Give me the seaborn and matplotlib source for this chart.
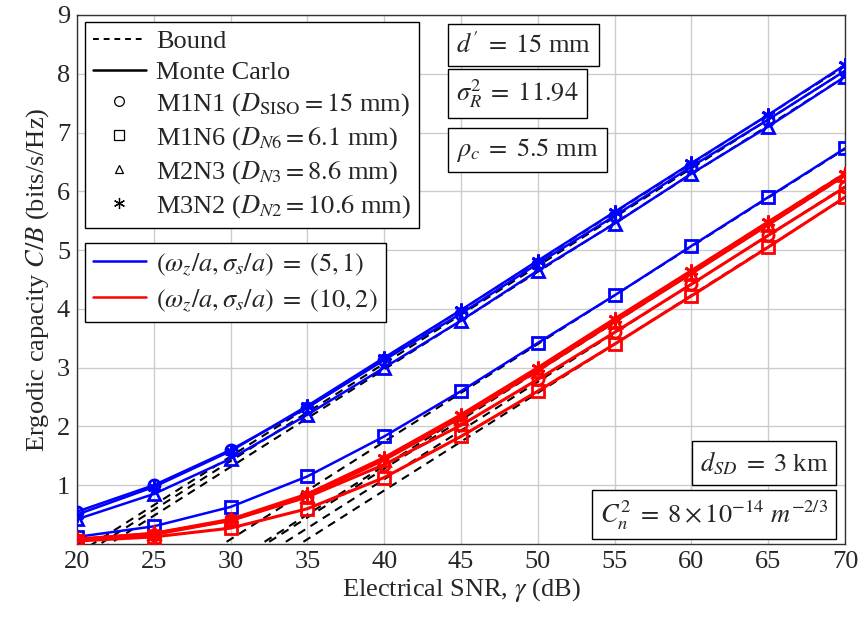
import numpy as np
import pandas as pd
import matplotlib
matplotlib.use("Agg")
import matplotlib.pyplot as plt
from matplotlib.lines import Line2D
import seaborn as sns

# ---------------- data ----------------
snr_db = [20, 25, 30, 35, 40, 45, 50, 55, 60, 65, 70]

# Monte Carlo, (wz/a, ss/a) = (5,1)  -> blue
mc_blue_m1n1 = [0.55, 1.00, 1.60, 2.32, 3.13, 3.92, 4.77, 5.58, 6.42, 7.22, 8.05]
mc_blue_m1n6 = [0.12, 0.30, 0.63, 1.15, 1.83, 2.60, 3.42, 4.23, 5.07, 5.90, 6.73]
mc_blue_m2n3 = [0.42, 0.85, 1.45, 2.20, 3.00, 3.80, 4.65, 5.45, 6.30, 7.10, 7.95]
mc_blue_m3n2 = [0.50, 0.97, 1.58, 2.35, 3.17, 3.98, 4.82, 5.65, 6.48, 7.30, 8.15]

# Monte Carlo, (wz/a, ss/a) = (10,2) -> red
mc_red_m1n1 = [0.07, 0.16, 0.40, 0.80, 1.35, 2.02, 2.80, 3.60, 4.42, 5.25, 6.07]
mc_red_m1n6 = [0.05, 0.12, 0.27, 0.60, 1.13, 1.83, 2.60, 3.40, 4.22, 5.05, 5.90]
mc_red_m2n3 = [0.08, 0.18, 0.40, 0.82, 1.43, 2.15, 2.95, 3.78, 4.60, 5.43, 6.27]
mc_red_m3n2 = [0.08, 0.18, 0.42, 0.85, 1.47, 2.20, 3.00, 3.83, 4.65, 5.48, 6.30]

# Bounds (drawn below 0 are clipped by the axis)
bd_blue_m1n1 = [-0.25, 0.58, 1.41, 2.24, 3.07, 3.90, 4.73, 5.56, 6.39, 7.22, 8.05]
bd_blue_m1n6 = [-1.58, -0.75, 0.08, 0.91, 1.74, 2.57, 3.40, 4.23, 5.06, 5.89, 6.72]
bd_blue_m2n3 = [-0.35, 0.48, 1.31, 2.14, 2.97, 3.80, 4.63, 5.46, 6.29, 7.12, 7.95]
bd_blue_m3n2 = [-0.17, 0.66, 1.49, 2.32, 3.15, 3.98, 4.81, 5.64, 6.47, 7.30, 8.13]
bd_red_m1n1 = [-2.22, -1.39, -0.56, 0.27, 1.10, 1.93, 2.76, 3.59, 4.42, 5.25, 6.08]
bd_red_m1n6 = [-2.41, -1.58, -0.75, 0.08, 0.91, 1.74, 2.57, 3.40, 4.23, 5.06, 5.89]
bd_red_m2n3 = [-2.04, -1.21, -0.38, 0.45, 1.28, 2.11, 2.94, 3.77, 4.60, 5.43, 6.26]
bd_red_m3n2 = [-1.99, -1.16, -0.33, 0.50, 1.33, 2.16, 2.99, 3.82, 4.65, 5.48, 6.31]

x_ticks = [20, 25, 30, 35, 40, 45, 50, 55, 60, 65, 70]
y_ticks = [1, 2, 3, 4, 5, 6, 7, 8, 9]

# ---------------- style ----------------
sns.set_theme(style="whitegrid")
plt.rcParams["font.family"] = ["Liberation Serif", "DejaVu Serif"]
plt.rcParams["mathtext.fontset"] = "stix"

FS = 19
fig = plt.figure(figsize=(8.61, 6.19), dpi=100)
ax = fig.add_axes([0.0894, 0.1212, 0.892, 0.8546])

BLUE = "#0000ff"
RED = "#ff0000"
ASTER = (6, 2, 0)

def frame(vals):
    return pd.DataFrame({"snr": snr_db, "cap": vals})

bounds = [bd_blue_m1n1, bd_blue_m1n6, bd_blue_m2n3, bd_blue_m3n2,
          bd_red_m1n1, bd_red_m1n6, bd_red_m2n3, bd_red_m3n2]
for b in bounds:
    sns.lineplot(data=frame(b), x="snr", y="cap", ax=ax, color="black",
                 linestyle=(0, (4, 3)), linewidth=1.5, zorder=3, legend=False)

series = [
    (mc_blue_m1n1, BLUE, "o", 1.8), (mc_blue_m1n6, BLUE, "s", 1.8),
    (mc_blue_m2n3, BLUE, "^", 1.8), (mc_blue_m3n2, BLUE, ASTER, 1.8),
    (mc_red_m1n1, RED, "o", 2.2), (mc_red_m1n6, RED, "s", 2.2),
    (mc_red_m2n3, RED, "^", 2.2), (mc_red_m3n2, RED, ASTER, 2.2),
]
for vals, col, mk, lw in series:
    ms = 10 if mk == ASTER else 8
    sns.lineplot(data=frame(vals), x="snr", y="cap", ax=ax, color=col,
                 linewidth=lw, marker=mk, markersize=ms,
                 markerfacecolor="none", markeredgecolor=col,
                 markeredgewidth=2.0, zorder=4, legend=False)

ax.set_xlim(20, 70)
ax.set_ylim(0, 9)
ax.set_xticks(x_ticks)
ax.set_yticks(y_ticks)
ax.set_xticklabels([str(t) for t in x_ticks], fontsize=FS)
ax.set_yticklabels([str(t) for t in y_ticks], fontsize=FS)
ax.grid(True, color="#cccccc", linewidth=1.0)
for s in ax.spines.values():
    s.set_color("#333333")
    s.set_linewidth(1.0)
ax.tick_params(axis="both", length=0, pad=5)
ax.set_xlabel(r"Electrical SNR, $\gamma$ (dB)", fontsize=FS, labelpad=2)
ax.set_ylabel(r"Ergodic capacity $C/B$ (bits/s/Hz)", fontsize=FS, labelpad=4)

# ---------------- legends ----------------
h1 = [
    Line2D([], [], color="black", linestyle=(0, (3, 2.5)), linewidth=1.4),
    Line2D([], [], color="black", linewidth=1.8),
    Line2D([], [], color="black", marker="o", linestyle="none", markersize=7, mfc="none", mew=0.9),
    Line2D([], [], color="black", marker="s", linestyle="none", markersize=7, mfc="none", mew=0.9),
    Line2D([], [], color="black", marker="^", linestyle="none", markersize=6, mfc="none", mew=0.9),
    Line2D([], [], color="black", marker=ASTER, linestyle="none", markersize=8, mfc="none", mew=0.9),
]
l1 = [
    "Bound", "Monte Carlo",
    r"M1N1 ($D_{\mathrm{SISO}} = 15$ mm)",
    r"M1N6 ($D_{N6} = 6.1$ mm)",
    r"M2N3 ($D_{N3} = 8.6$ mm)",
    r"M3N2 ($D_{N2} = 10.6$ mm)",
]
leg1 = ax.legend(h1, l1, loc="upper left", bbox_to_anchor=(0.0104, 0.987),
                 fontsize=FS, frameon=True, fancybox=False, edgecolor="black",
                 framealpha=1, handlelength=2.0, handletextpad=0.4,
                 labelspacing=0.27, borderpad=0.3, borderaxespad=0.0)
leg1.get_frame().set_linewidth(1.0)
ax.add_artist(leg1)

h2 = [Line2D([], [], color=BLUE, linewidth=1.8),
      Line2D([], [], color=RED, linewidth=1.8)]
l2 = [r"$(\omega_z/a,\sigma_s/a) \;=\; (5,1)$",
      r"$(\omega_z/a,\sigma_s/a) \;=\; (10,2)$"]
leg2 = ax.legend(h2, l2, loc="upper left", bbox_to_anchor=(0.0104, 0.569),
                 fontsize=FS, frameon=True, fancybox=False, edgecolor="black",
                 framealpha=1, handlelength=2.0, handletextpad=0.4,
                 labelspacing=0.35, borderpad=0.3, borderaxespad=0.0)
leg2.get_frame().set_linewidth(1.0)

# ---------------- annotation boxes ----------------
box = dict(boxstyle="square,pad=0.3", facecolor="white", edgecolor="black", linewidth=1.0)
ax.text(0.494, 0.943, r"$d' \;=\; 15$ mm", transform=ax.transAxes, fontsize=FS,
        ha="left", va="center", bbox=box, zorder=6)
ax.text(0.494, 0.851, r"$\sigma_R^2 \;=\; 11.94$", transform=ax.transAxes, fontsize=FS,
        ha="left", va="center", bbox=box, zorder=6)
ax.text(0.494, 0.745, r"$\rho_c \;=\; 5.5$ mm", transform=ax.transAxes, fontsize=FS,
        ha="left", va="center", bbox=box, zorder=6)
ax.text(0.978, 0.153, r"$d_{SD} \;=\; 3$ km", transform=ax.transAxes, fontsize=FS,
        ha="right", va="center", bbox=box, zorder=6)
ax.text(0.978, 0.055, r"$C_n^2 \;=\; 8 \times 10^{-14}\ m^{-2/3}$", transform=ax.transAxes,
        fontsize=FS, ha="right", va="center", bbox=box, zorder=6)

fig.savefig("out.png", dpi=100)
